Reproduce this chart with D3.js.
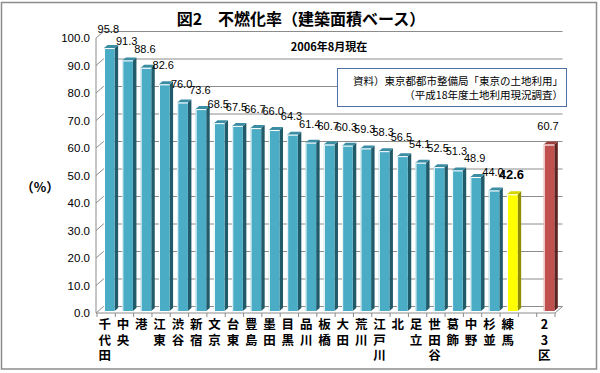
<!DOCTYPE html>
<html>
<head>
<meta charset="utf-8">
<script src="https://cdn.jsdelivr.net/npm/d3@7"></script>
<style>
body { margin: 0; background: #fff; }
svg { display: block; }
</style>
</head>
<body>
<script>
// wards (23区), the gap category is "" so the total bar stands apart
var wards = ["千代田", "中央", "港", "江東", "渋谷", "新宿", "文京", "台東", "豊島", "墨田", "目黒",
  "品川", "板橋", "大田", "荒川", "江戸川", "北", "足立", "世田谷", "葛飾", "中野", "杉並", "練馬", "", "23区"];
var rates = [95.8, 91.3, 88.6, 82.6, 76.0, 73.6, 68.5, 67.5, 66.7, 66.0, 64.3,
  61.4, 60.7, 60.3, 59.3, 58.3, 56.5, 54.1, 52.5, 51.3, 48.9, 44.0, 42.6, null, 60.7];
var yTicks = [0, 10, 20, 30, 40, 50, 60, 70, 80, 90, 100];
var highlight = "練馬";
var total = "23区";

var width = 600;
var height = 373;
var depthX = 7.5;
var depthY = -6.5;

var svg = d3.select("body").append("svg")
  .attr("width", width)
  .attr("height", height);

svg.append("rect")
  .attr("x", 1.5).attr("y", 2.5)
  .attr("width", 595).attr("height", 366.5)
  .style("fill", "#fff")
  .style("stroke", "#8c8c8c")
  .style("stroke-width", 1.5);

var x = d3.scaleBand().domain(d3.range(wards.length)).range([97, 555]);
var y = d3.scaleLinear().domain([0, 100]).range([313, 38]);
var fmt = d3.format(".1f");

var grid = svg.append("g").style("stroke", "#8c8c8c").style("stroke-width", 1).style("fill", "none");
// back wall gridlines and left wall diagonals
yTicks.forEach(function (t) {
  grid.append("line")
    .attr("x1", 96).attr("y1", y(t))
    .attr("x2", 96 + depthX).attr("y2", y(t) + depthY);
  grid.append("line")
    .attr("x1", 96 + depthX).attr("y1", y(t) + depthY)
    .attr("x2", 555 + depthX).attr("y2", y(t) + depthY);
});
// front axis lines and floor edge
grid.append("line").attr("x1", 96).attr("y1", y(100)).attr("x2", 96).attr("y2", y(0));
grid.append("line").attr("x1", 96).attr("y1", y(0)).attr("x2", 555).attr("y2", y(0));
grid.append("line").attr("x1", 555).attr("y1", y(0)).attr("x2", 555 + depthX).attr("y2", y(0) + depthY);
d3.range(wards.length + 1).forEach(function (k) {
  var px = 97 + k * x.bandwidth();
  grid.append("line").attr("x1", px).attr("y1", y(0)).attr("x2", px).attr("y2", y(0) + 4);
});

svg.append("g").selectAll("text")
  .data(yTicks)
  .enter().append("text")
  .attr("x", 90)
  .attr("y", function (d) { return y(d); })
  .attr("dy", "0.35em")
  .attr("text-anchor", "end")
  .style("font", "11.5px 'Liberation Sans', Arial, sans-serif")
  .text(function (d) { return fmt(d); });

function colors(name) {
  if (name === highlight) return { front: "#ffff00", side: "#8f8f00", top: "#d4d400" };
  if (name === total) return { front: "#c0504d", side: "#5e2422", top: "#9a3f3c" };
  return { front: "#4bacc6", side: "#215a69", top: "#3b8da3" };
}

var barW = x.bandwidth() * 0.58;
var sideX = 3.5;
var sideY = -3;
var bars = svg.append("g");
wards.forEach(function (name, i) {
  var v = rates[i];
  if (v === null) return;
  var c = colors(name);
  var x0 = x(i) + 7;
  var top = y(v) - 1.5;
  var bottom = y(0) - 2;
  var g = bars.append("g");
  g.append("polygon")
    .attr("points", [[x0 + barW, top], [x0 + barW + sideX, top + sideY], [x0 + barW + sideX, bottom + sideY], [x0 + barW, bottom]].join(" "))
    .style("fill", c.side);
  g.append("polygon")
    .attr("points", [[x0, top], [x0 + sideX, top + sideY], [x0 + barW + sideX, top + sideY], [x0 + barW, top]].join(" "))
    .style("fill", c.top);
  g.append("rect")
    .attr("x", x0).attr("y", top)
    .attr("width", barW).attr("height", bottom - top)
    .style("fill", c.front);
  g.append("polyline")
    .attr("points", [[x0 + 0.5, bottom], [x0 + 0.5, top + 0.5], [x0 + barW, top + 0.5]].join(" "))
    .style("fill", "none")
    .style("stroke", "#fff")
    .style("stroke-width", 1);
  g.append("text")
    .attr("x", x0 + barW / 2 - 1)
    .attr("y", top - 15)
    .attr("text-anchor", "middle")
    .style("font", (name === highlight ? "bold 13px" : "11px") + " 'Liberation Sans', Arial, sans-serif")
    .text(fmt(v));
});

// category labels, written top to bottom
svg.append("g").selectAll("text")
  .data(wards)
  .enter().append("text")
  .attr("x", function (d, i) { return x(i) + x.bandwidth() / 2 - 1.5; })
  .attr("y", 318)
  .style("writing-mode", "vertical-rl")
  .style("text-orientation", "upright")
  .style("letter-spacing", "3px")
  .style("font", "bold 12.5px 'Noto Sans CJK JP', sans-serif")
  .text(function (d) { return d; });

svg.append("text")
  .attr("x", 301).attr("y", 19)
  .attr("dy", "0.38em")
  .attr("text-anchor", "middle")
  .style("font", "bold 16px 'Noto Sans CJK JP', sans-serif")
  .text("図2　不燃化率（建築面積ベース）");

svg.append("text")
  .attr("x", 329).attr("y", 47)
  .attr("dy", "0.38em")
  .attr("text-anchor", "middle")
  .style("font", "bold 11px 'Noto Sans CJK JP', sans-serif")
  .text("2006年8月現在");

svg.append("text")
  .attr("x", 40).attr("y", 187)
  .attr("dy", "0.38em")
  .attr("text-anchor", "middle")
  .style("font", "bold 13px 'Noto Sans CJK JP', sans-serif")
  .text("（%）");

var note = svg.append("g");
note.append("rect")
  .attr("x", 337.5).attr("y", 68.5)
  .attr("width", 229).attr("height", 38)
  .style("fill", "#fff")
  .style("stroke", "#4f6fa8")
  .style("stroke-width", 1);
["資料）東京都都市整備局「東京の土地利用」", "（平成18年度土地利用現況調査）"].forEach(function (line, i) {
  note.append("text")
    .attr("x", 563).attr("y", 81 + i * 14)
    .attr("dy", "0.38em")
    .attr("text-anchor", "end")
    .style("font", "10.5px 'Noto Sans CJK JP', sans-serif")
    .text(line);
});
</script>
</body>
</html>
